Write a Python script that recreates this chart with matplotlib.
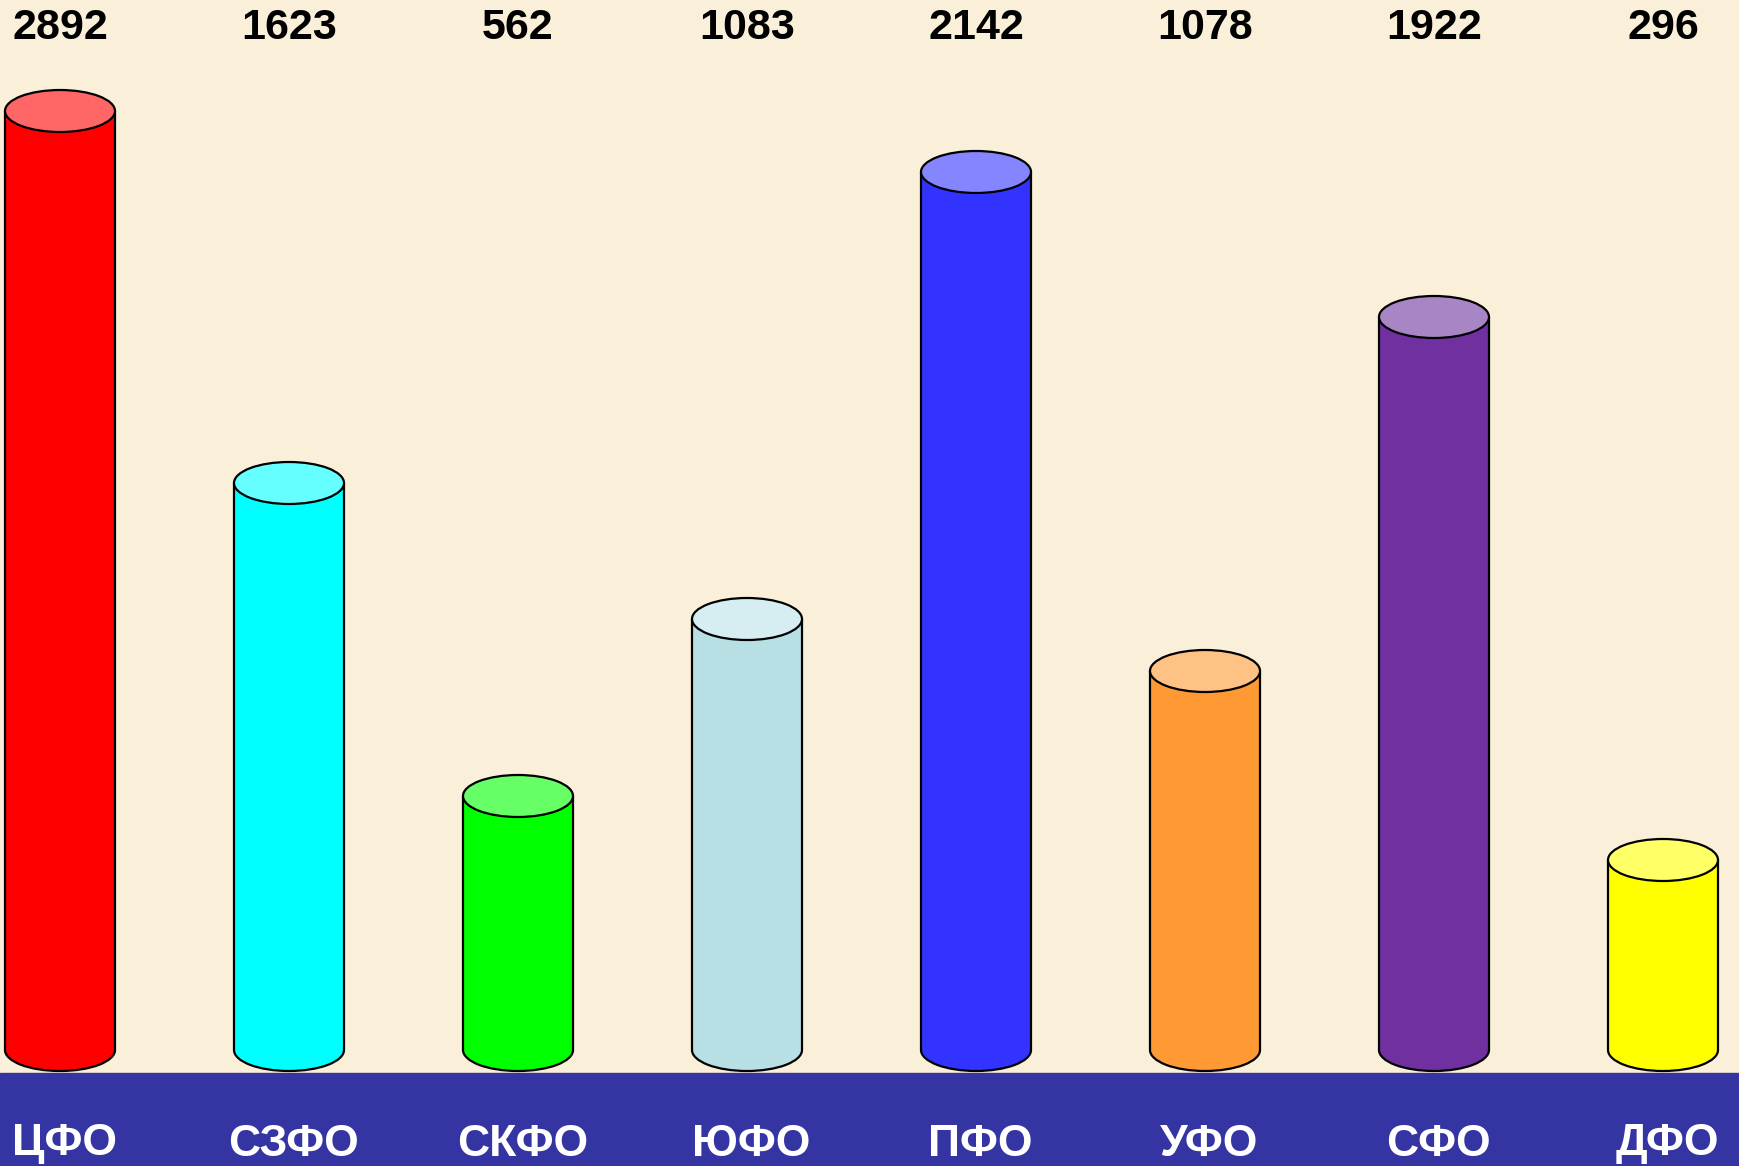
import matplotlib
matplotlib.use("Agg")
import matplotlib.pyplot as plt
from matplotlib.patches import Ellipse, Arc

# Data
districts = ["ЦФО", "СЗФО", "СКФО", "ЮФО", "ПФО", "УФО", "СФО", "ДФО"]
values = [2892, 1623, 562, 1083, 2142, 1078, 1922, 296]
# bar heights as drawn in the picture (not proportional to values)
bar_heights = [939, 567, 254, 431, 878, 379, 733, 190]
body_colors = ["#FF0000", "#00FFFF", "#00FF00", "#B8E0E4", "#3333FF", "#FF9933", "#7030A0", "#FFFF00"]
top_colors = ["#FF6666", "#66FFFF", "#66FF66", "#D6EEF1", "#8585FF", "#FFC285", "#A886C6", "#FFFF66"]

W, H = 1740, 1166
bg = "#FAF0DA"
fig = plt.figure(figsize=(W / 100, H / 100), dpi=100)
fig.patch.set_facecolor(bg)
ax = fig.add_axes([0, 0, 1, 1])
ax.set_facecolor(bg)

step = 229.0
first = 60.0
base_px = 1050  # baseline from top in px
ax.set_xlim(-first / step, (W - first) / step)
ax.set_ylim(-(H - base_px), base_px)
ax.axis("off")

font = ["Liberation Sans Narrow", "Liberation Sans", "DejaVu Sans"]

# blue band
ax.axhspan(-(H - base_px), -23, color="#3434A2", zorder=0)

bw = 110 / step
eh = 42
x = list(range(len(districts)))
ax.bar(x, bar_heights, width=bw, color=body_colors, linewidth=0, zorder=2)
for i, h in enumerate(bar_heights):
    ax.add_patch(Ellipse((i, 0), bw, eh, facecolor=body_colors[i], edgecolor="none", zorder=2))
    ax.add_patch(Arc((i, 0), bw, eh, theta1=180, theta2=360, edgecolor="black", lw=1.6, zorder=3))
    ax.plot([i - bw / 2, i - bw / 2], [0, h], color="black", lw=1.6, zorder=3, solid_capstyle="butt")
    ax.plot([i + bw / 2, i + bw / 2], [0, h], color="black", lw=1.6, zorder=3, solid_capstyle="butt")
    ax.add_patch(Ellipse((i, h), bw, eh, facecolor=top_colors[i], edgecolor="black", lw=1.6, zorder=4))
    ax.text(i, base_px - 28, str(values[i]), ha="center", va="center", fontsize=31,
            fontweight="bold", family=font, color="black", zorder=5)
    ax.text(i + 0.02, -94, districts[i], ha="center", va="center", fontsize=32,
            fontweight="bold", family=font, color="white", zorder=5)

fig.savefig("out.png", dpi=100, facecolor=fig.get_facecolor())
